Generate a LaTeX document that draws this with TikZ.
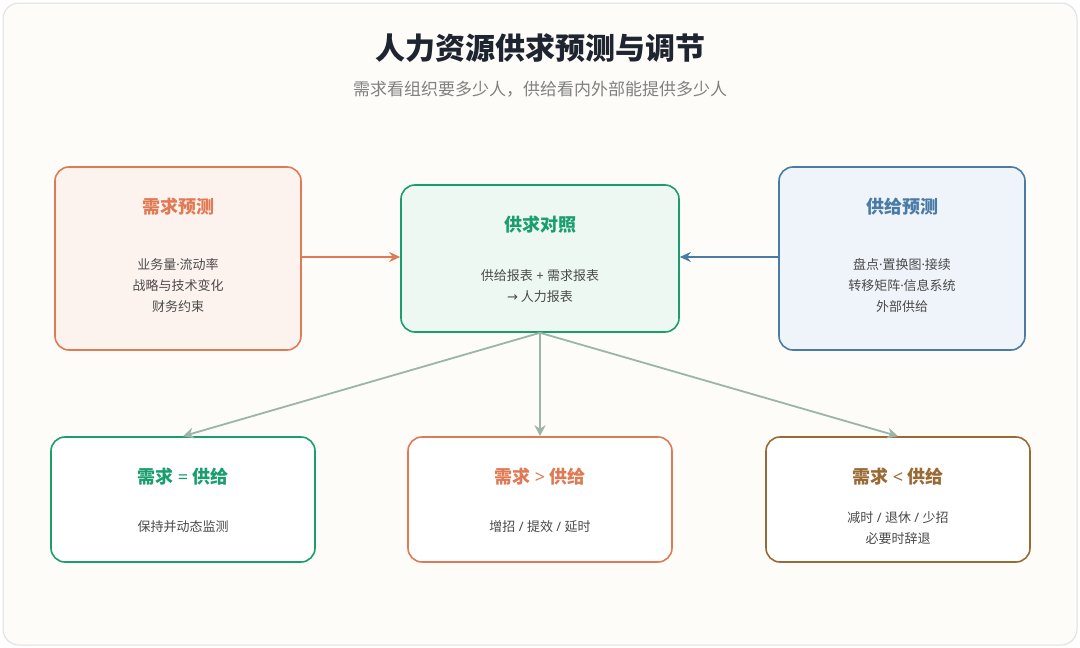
\documentclass[tikz,border=0pt]{standalone}
\usepackage{fontspec}
\setmainfont{Noto Sans CJK SC}
\newfontfamily\lat{Noto Sans}
\newfontfamily\djv{DejaVu Sans}
\newcommand{\md}{{\lat ·}}
\usetikzlibrary{arrows.meta}
\definecolor{org}{HTML}{E07A55}\definecolor{orgf}{HTML}{FDF3EE}
\definecolor{grn}{HTML}{1A9E6E}\definecolor{grnf}{HTML}{EEF8F3}
\definecolor{blu}{HTML}{4A7BA7}\definecolor{bluf}{HTML}{EEF4FA}
\definecolor{brn}{HTML}{9A6A35}\definecolor{txt}{HTML}{4A4A4A}
\definecolor{arr}{HTML}{9DB5A8}
\begin{document}
\begin{tikzpicture}[x=1pt,y=-1pt,
 box/.style={draw=#1,line width=1.6pt,rounded corners=14pt,fill=white},
 ttl/.style={font=\fontsize{18}{21}\selectfont\bfseries,text=#1},
 bd/.style={font=\fontsize{13}{21}\selectfont,text=txt,align=center},
 con/.style={line width=2.6pt,-{Stealth[length=11pt,width=10pt]}}]
\useasboundingbox (0,0) rectangle (1080,648);
\draw[draw=gray!25,fill={rgb,255:red,253;green,252;blue,248},rounded corners=16pt,line width=1pt] (3,3) rectangle (1077,645);
\node[font=\fontsize{30}{34}\selectfont\bfseries,text={rgb,255:red,30;green,36;blue,48}] (t) at (540,48) {人力资源供求预测与调节};
\node[font=\fontsize{17}{20}\selectfont,text=gray] (st) at (540,89) {需求看组织要多少人，供给看内外部能提供多少人};
% top boxes
\node[box=org,fill=orgf,minimum width=246pt,minimum height=183pt] (d) at (178,258.5) {};
\node[ttl=org] at (178,207) {需求预测};
\node[bd] at (178,286) {业务量\md 流动率\\战略与技术变化\\财务约束};
\node[box=grn,fill=grnf,minimum width=278pt,minimum height=147pt] (c) at (540,258.5) {};
\node[ttl=grn] at (540,225) {供求对照};
\node[bd] at (540,286) {供给报表{\lat\ + }需求报表\\{\djv →} 人力报表};
\node[box=blu,fill=bluf,minimum width=246pt,minimum height=183pt] (s) at (902,258.5) {};
\node[ttl=blu] at (902,207) {供给预测};
\node[bd] at (902,286) {盘点\md 置换图\md 接续\\转移矩阵\md 信息系统\\外部供给};
% bottom boxes
\node[box=grn,minimum width=264pt,minimum height=125pt] (b1) at (183,499.5) {};
\node[ttl=grn] at (183,477) {需求{\lat\ = }供给};
\node[bd] at (183,527) {保持并动态监测};
\node[box=org,minimum width=264pt,minimum height=125pt] (b2) at (540,499.5) {};
\node[ttl=org] at (540,477) {需求{\lat\ > }供给};
\node[bd] at (540,527) {增招{\lat\ / }提效{\lat\ / }延时};
\node[box=brn,minimum width=264pt,minimum height=125pt] (b3) at (898,499.5) {};
\node[ttl=brn] at (898,477) {需求{\lat\ < }供给};
\node[bd] at (898,528) {减时{\lat\ / }退休{\lat\ / }少招\\必要时辞退};
% connectors
\draw[con,draw=org] (d.east |- 0,257) -- (c.west |- 0,257);
\draw[con,draw=blu] (s.west |- 0,257) -- (c.east |- 0,257);
\draw[arr,line width=1.8pt,-{Stealth[length=11pt,width=11pt]}] (c.south) -- (b1.north);
\draw[arr,line width=1.8pt,-{Stealth[length=11pt,width=11pt]}] (c.south) -- (b2.north);
\draw[arr,line width=1.8pt,-{Stealth[length=11pt,width=11pt]}] (c.south) -- (b3.north);
\end{tikzpicture}
\end{document}
